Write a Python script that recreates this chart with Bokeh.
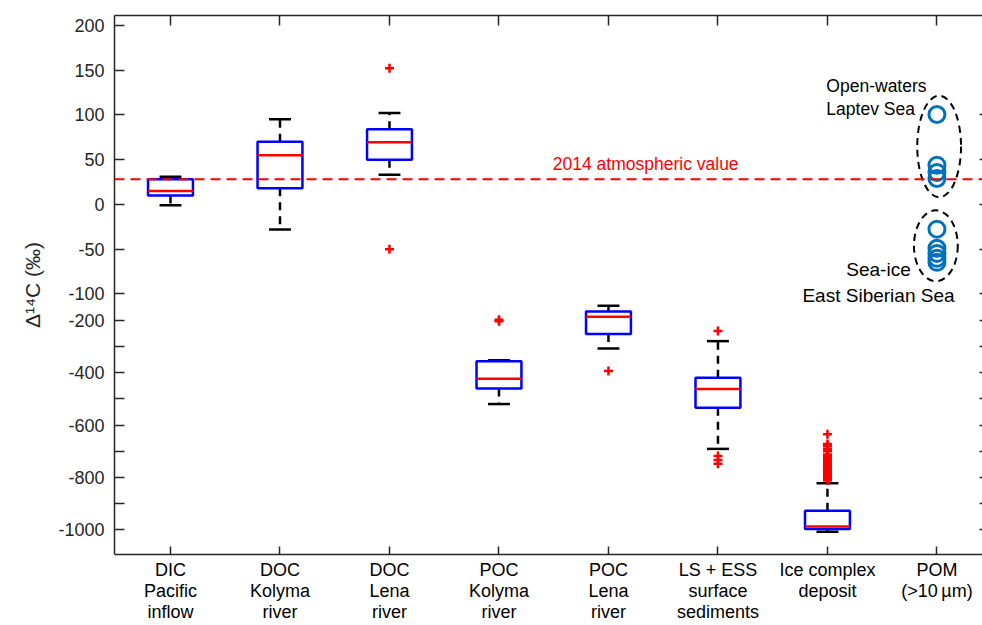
from bokeh.plotting import figure
from bokeh.models import ColumnDataSource, Range1d, LinearAxis, FixedTicker, Span, Label
from bokeh.embed import file_html
from bokeh.resources import INLINE

# ---------------- data (values in per mil) ----------------
categories = ["DIC\nPacific\ninflow", "DOC\nKolyma\nriver", "DOC\nLena\nriver",
              "POC\nKolyma\nriver", "POC\nLena\nriver", "LS + ESS\nsurface\nsediments",
              "Ice complex\ndeposit", "POM\n(>10\u2009µm)"]

whisker_low = [-1, -28, 33, -520, -308, -691, -1007]
q1 = [10, 18, 50, -461, -253, -534, -997]
median = [15, 55, 69.5, -423, -187, -463, -987]
q3 = [28, 70, 84, -357, -167, -420, -927]
whisker_high = [31, 95, 102, -353, -145, -280, -822]

outliers_doc_lena = [152, -50]
outliers_poc_kolyma = [-198, -204]
outliers_poc_lena = [-394]
outliers_ls_ess = [-241, -718, -733, -748]
outliers_ice_complex = [-635, -672, -680, -690, -700, -712, -718, -725, -732, -738,
                        -745, -752, -758, -765, -772, -778, -785, -792, -798, -805, -812]

pom_open_waters = [100.4, 43.8, 35.7, 29.0]
pom_sea_ice = [-27.6, -49.0, -54.7, -60.2, -64.7]

atmospheric_2014 = 28

yticks_labelled = [200, 150, 100, 50, 0, -50, -100, -200, -400, -600, -800, -1000]
yticks_unlabelled = [-300, -500, -700, -900]
right_ticks_vals = [100, 50, 0, -50, -100, -200, -300, -400, -500, -600, -700, -800,
                    -900, -1000]

# ---------------- broken-axis transform ----------------
BREAK = -100
K = 0.2928  # compression of the lower part of the axis


def disp(v):
    return v if v >= BREAK else BREAK + (v - BREAK) * K


FONT = "Liberation Sans"
AX = "#262626"
Y0, Y1 = -391, 211

p = figure(width=982, height=625, output_backend="svg", toolbar_location=None,
           x_range=Range1d(0.4886, 8.416), y_range=Range1d(Y0, Y1),
           min_border_left=114, min_border_right=0, min_border_top=15, min_border_bottom=71)
p.outline_line_color = None
p.xgrid.visible = False
p.ygrid.visible = False
p.background_fill_color = "white"

# ---------------- boxes ----------------
n = len(q1)
xs = list(range(1, n + 1))
hw = 0.205
cw = 0.1
box = ColumnDataSource(dict(
    x=xs,
    left=[x - hw for x in xs], right=[x + hw for x in xs],
    cl=[x - cw for x in xs], cr=[x + cw for x in xs],
    wl=[disp(v) for v in whisker_low], q1=[disp(v) for v in q1],
    med=[disp(v) for v in median], q3=[disp(v) for v in q3],
    wh=[disp(v) for v in whisker_high]))

p.segment(x0="x", x1="x", y0="q3", y1="wh", source=box, line_color="black",
          line_width=2.5, line_dash="8 6")
p.segment(x0="x", x1="x", y0="q1", y1="wl", source=box, line_color="black",
          line_width=2.5, line_dash="8 6")
p.segment(x0="cl", x1="cr", y0="wh", y1="wh", source=box, line_color="black", line_width=2.5)
p.segment(x0="cl", x1="cr", y0="wl", y1="wl", source=box, line_color="black", line_width=2.5)
p.quad(left="left", right="right", bottom="q1", top="q3", source=box,
       fill_color="white", line_color="#0000FF", line_width=2.5)
p.segment(x0="left", x1="right", y0="med", y1="med", source=box, line_color="#FF0000",
          line_width=2.5)

# outliers
ox, oy = [], []
for cat, vals in [(3, outliers_doc_lena), (4, outliers_poc_kolyma), (5, outliers_poc_lena),
                  (6, outliers_ls_ess), (7, outliers_ice_complex)]:
    for v in vals:
        ox.append(cat)
        oy.append(disp(v))
p.scatter(x=ox, y=oy, marker="cross", size=9, line_color="#FF0000", line_width=2.5)

# 2014 atmospheric value
p.add_layout(Span(location=disp(atmospheric_2014), dimension="width", line_color="#FF0000",
                  line_width=2, line_dash="10 6"))
p.add_layout(Label(x=5.34, y=45, text="2014 atmospheric value", text_color="#FF0000",
                   text_font=FONT, text_font_size="17.5px", text_align="center",
                   text_baseline="middle"))

# POM circles
pom_x = 8
p.scatter(x=[pom_x] * len(pom_open_waters), y=[disp(v) for v in pom_open_waters],
          marker="circle", size=16, fill_color=None, line_color="#0072BD", line_width=3)
p.scatter(x=[pom_x] * len(pom_sea_ice), y=[disp(v) for v in pom_sea_ice],
          marker="circle", size=16, fill_color=None, line_color="#0072BD", line_width=3)

pad = 21
for grp, dx in [(pom_open_waters, 0.02), (pom_sea_ice, -0.01)]:
    lo, hi = min(grp), max(grp)
    p.ellipse(x=[pom_x + dx], y=[(lo + hi) / 2], width=[0.4], height=[hi - lo + 2 * pad],
              fill_color=None, line_color="black", line_width=2, line_dash="7 5")

for txt, yy in [("Open-waters", 132), ("Laptev Sea", 107)]:
    p.add_layout(Label(x=6.99, y=yy, text=txt, text_font=FONT, text_font_size="17.5px",
                       text_align="left", text_baseline="middle", text_color="black"))
for txt, yy in [("Sea-ice", -73), ("East Siberian Sea", -102)]:
    p.add_layout(Label(x=7.466, y=yy, text=txt, text_font=FONT, text_font_size="19px",
                       text_align="center", text_baseline="middle", text_color="black"))

# ---------------- axes ----------------
ya = p.yaxis[0]
ya.ticker = FixedTicker(ticks=[disp(v) for v in yticks_labelled],
                        minor_ticks=[disp(v) for v in yticks_unlabelled])
ya.major_label_overrides = {disp(v): str(v) for v in yticks_labelled}
ya.major_tick_in = 10
ya.major_tick_out = 0
ya.minor_tick_in = 10
ya.minor_tick_out = 0
ya.minor_tick_line_color = AX
ya.minor_tick_line_width = 1.5
ya.major_label_standoff = 10
ya.major_label_text_font = FONT
ya.major_label_text_font_size = "18px"
ya.major_label_text_color = AX
ya.axis_line_color = AX
ya.axis_line_width = 1.5
ya.major_tick_line_color = AX
ya.major_tick_line_width = 1.5
ya.axis_label = "Δ¹⁴C (‰)"
ya.axis_label_text_font = FONT
ya.axis_label_text_font_style = "normal"
ya.axis_label_text_font_size = "21px"
ya.axis_label_text_color = AX
ya.axis_label_standoff = 11

cat_ticks = list(range(1, len(categories) + 1))

xa = p.xaxis[0]
xa.ticker = FixedTicker(ticks=cat_ticks)
xa.major_label_overrides = {i + 1: c for i, c in enumerate(categories)}
xa.major_tick_in = 8
xa.major_tick_out = 0
xa.minor_tick_line_color = None
xa.major_label_standoff = 5
xa.major_label_text_font = FONT
xa.major_label_text_font_size = "18px"
xa.major_label_text_line_height = 1.07
xa.major_label_text_color = "black"
xa.axis_line_color = AX
xa.axis_line_width = 1.5
xa.major_tick_line_color = AX
xa.major_tick_line_width = 1.5

top = LinearAxis(ticker=FixedTicker(ticks=[], minor_ticks=cat_ticks),
                 minor_tick_in=10, minor_tick_out=0, minor_tick_line_color=AX,
                 minor_tick_line_width=1.5, major_label_standoff=0,
                 axis_line_color=AX, axis_line_width=1.5)
p.add_layout(top, "above")

right = LinearAxis(ticker=FixedTicker(ticks=[], minor_ticks=[disp(v) for v in right_ticks_vals]),
                   minor_tick_in=3, minor_tick_out=0, minor_tick_line_color=AX,
                   minor_tick_line_width=1.5, major_label_standoff=0, axis_line_color=None)
p.add_layout(right, "right")

open("out.html", "w").write(file_html(p, INLINE))
